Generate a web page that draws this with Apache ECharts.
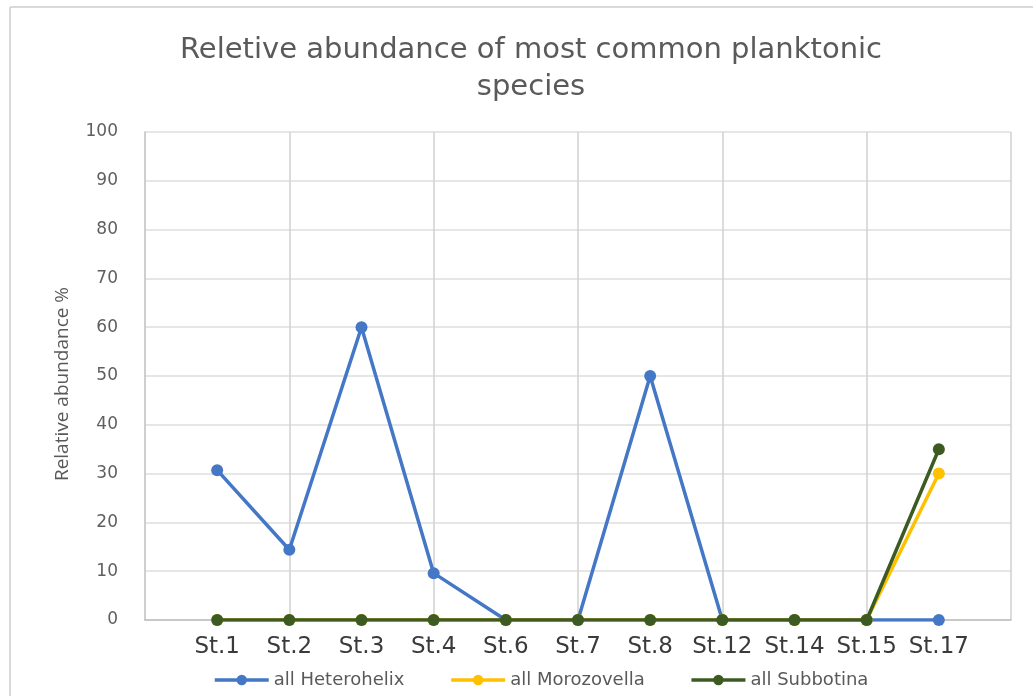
<!DOCTYPE html>
<html>
<head>
<meta charset="utf-8">
<script src="https://cdn.jsdelivr.net/npm/echarts@6/dist/echarts.min.js"></script>
<style>
  html, body { margin: 0; padding: 0; background: #ffffff; }
  #chart { width: 1033px; height: 696px; }
</style>
</head>
<body>
<div id="chart"></div>
<script>
// Stations sampled along the section
const stations = ['St.1', 'St.2', 'St.3', 'St.4', 'St.6', 'St.7', 'St.8', 'St.12', 'St.14', 'St.15', 'St.17'];

// Relative abundance (%) per genus at each station
const heterohelix = [30.7, 14.4, 60, 9.6, 0, 0, 50, 0, 0, 0, 0];
const morozovella = [0, 0, 0, 0, 0, 0, 0, 0, 0, 0, 30];
const subbotina   = [0, 0, 0, 0, 0, 0, 0, 0, 0, 0, 35];

const yTicks = [0, 10, 20, 30, 40, 50, 60, 70, 80, 90, 100];

// Blank slot at each end so the stations sit inside the plot frame
const axisCats = [' ', ...stations, '  '];
const pad = arr => [null, ...arr, null];

const chart = echarts.init(document.getElementById('chart'), null, { renderer: 'canvas' });

const textFont = '"DejaVu Sans", "Open Sans", sans-serif';

function lineSeries(name, values, color, z) {
  return {
    name: name,
    type: 'line',
    data: pad(values),
    symbol: 'circle',
    symbolSize: 12,
    z: z,
    lineStyle: { color: color, width: 3.5 },
    itemStyle: { color: color },
    connectNulls: false
  };
}

chart.setOption({
  animation: false,
  backgroundColor: '#ffffff',
  title: {
    text: 'Reletive abundance of most common planktonic\nspecies',
    left: 526,
    textAlign: 'center',
    top: 27,
    textStyle: {
      fontFamily: textFont,
      fontSize: 29,
      fontWeight: 'normal',
      color: '#5a5a5a',
      lineHeight: 37
    }
  },
  legend: {
    top: 666,
    left: 208,
    itemWidth: 54,
    itemHeight: 13,
    itemGap: 45,
    lineStyle: { width: 3.5 },
    textStyle: { fontFamily: textFont, fontSize: 18, color: '#595959' },
    data: ['all Heterohelix', 'all Morozovella', 'all Subbotina']
  },
  graphic: [
    { type: 'line', shape: { x1: 10, y1: 7, x2: 1033, y2: 7 }, style: { stroke: '#d9d9d9', lineWidth: 2 } },
    { type: 'line', shape: { x1: 10, y1: 7, x2: 10, y2: 696 }, style: { stroke: '#d9d9d9', lineWidth: 2 } }
  ],
  grid: { left: 145, right: 22, top: 132, bottom: 76, containLabel: false },
  xAxis: {
    type: 'category',
    data: axisCats,
    boundaryGap: false,
    axisLine: { show: true, lineStyle: { color: '#bfbfbf', width: 1.5 } },
    axisTick: { show: false },
    axisLabel: {
      interval: 0,
      margin: 16,
      fontFamily: textFont,
      fontSize: 23,
      color: '#3a3a3a'
    },
    splitLine: {
      show: true,
      interval: idx => idx % 2 === 0 && idx > 0,
      lineStyle: { color: '#d0d0d0', width: 1.5 }
    }
  },
  yAxis: {
    type: 'value',
    min: yTicks[0],
    max: yTicks[yTicks.length - 1],
    interval: 10,
    name: 'Relative abundance %',
    nameLocation: 'middle',
    nameGap: 73,
    nameRotate: 90,
    nameTextStyle: { fontFamily: '"Open Sans", sans-serif', fontSize: 19, color: '#595959', padding: [0, 16, 0, 0] },
    axisLine: { show: true, lineStyle: { color: '#bfbfbf', width: 1.5 } },
    axisTick: { show: false },
    axisLabel: {
      margin: 27,
      fontFamily: textFont,
      fontSize: 17,
      color: '#5f5f5f'
    },
    splitLine: { show: true, lineStyle: { color: '#dedede', width: 1.5 } }
  },
  series: [
    lineSeries('all Heterohelix', heterohelix, '#4477c6', 2),
    lineSeries('all Morozovella', morozovella, '#ffc000', 3),
    lineSeries('all Subbotina', subbotina, '#3b5b22', 4)
  ]
});
</script>
</body>
</html>
